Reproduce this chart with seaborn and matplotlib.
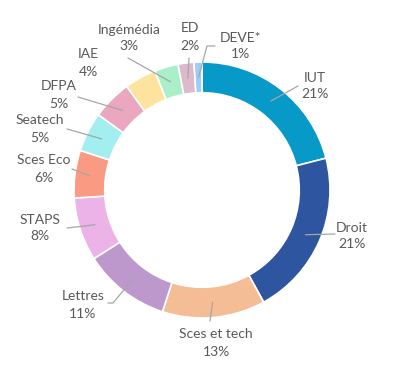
import matplotlib
matplotlib.use("Agg")
import matplotlib.pyplot as plt
import seaborn as sns
import numpy as np

# data
labels = ["IUT", "Droit", "Sces et tech", "Lettres", "STAPS", "Sces Eco",
          "Seatech", "DFPA", "IAE", "Ingémédia", "ED", "DEVE*"]
shares = [21, 21, 13, 11, 8, 6, 5, 5, 4, 3, 2, 1]
colors = ["#0799c8", "#2e55a0", "#f5bd95", "#bd98cc", "#ebb3e8", "#fb9a82",
          "#a2eef0", "#eba7bf", "#fde39d", "#a9efc9", "#ddbacb", "#9ecef7"]

# label layout in pixels (text centre, leader line end points)
text_px = [(315, 86), (352, 236), (216, 343), (83, 305), (40, 228), (44, 169),
           (40, 129), (59, 95), (88, 63), (129, 38), (190, 37), (240, 46)]
line_px = [[(298, 86)], [(335, 234)], [(210, 321)], [(113, 303), (108, 303)],
           [(67, 228)], [(72, 169)], [(67, 129)], [(78, 97)], [],
           [(128, 58)], [(189, 58)], [(207, 46), (215, 46)]]

sns.set_theme(style="white")
plt.rcParams["font.family"] = ["Lato", "DejaVu Sans"]

W, H, CX, CY, R = 416, 371, 202, 190, 128


def px(x, y):
    return (x - CX) / R, (CY - y) / R


fig = plt.figure(figsize=(4.16, 3.71), dpi=100)
ax = fig.add_axes([0, 0, 1, 1])
wedges, _ = ax.pie(shares, colors=sns.color_palette(colors), startangle=90,
                   counterclock=False, radius=1,
                   wedgeprops=dict(width=0.24, edgecolor="white", linewidth=1.2))

for w, lab, s, tp, lp in zip(wedges, labels, shares, text_px, line_px):
    if lp:
        mid = np.deg2rad((w.theta1 + w.theta2) / 2)
        xs = [0.88 * np.cos(mid)] + [px(*p)[0] for p in lp]
        ys = [0.88 * np.sin(mid)] + [px(*p)[1] for p in lp]
        ax.plot(xs, ys, color="#a6a6a6", lw=0.9)
    tx, ty = px(*tp)
    ax.text(tx, ty, f"{lab}\n{s}%", ha="center", va="center", fontsize=10,
            color="#595959", linespacing=1.5)

ax.set_xlim(-CX / R, (W - CX) / R)
ax.set_ylim(-(H - CY) / R, CY / R)
ax.set_aspect("equal")
ax.axis("off")
fig.savefig("out.png", dpi=100)
